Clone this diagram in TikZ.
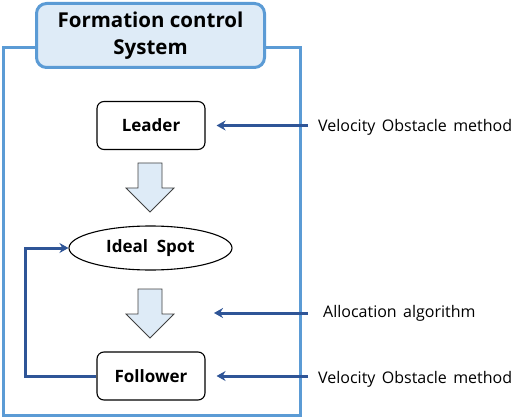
\documentclass[tikz,border=0pt]{standalone}
\usepackage{fontspec}
\setmainfont{Open Sans}
\usepackage{tikz}
\usetikzlibrary{arrows.meta,shapes.geometric,positioning}

\definecolor{frameblue}{HTML}{5B9BD5}
\definecolor{lightblue}{HTML}{DEEBF7}
\definecolor{darkblue}{HTML}{2F5597}

\begin{document}
\begin{tikzpicture}[x=1pt,y=-1pt,
  block/.style={draw,rounded corners=7pt,line width=1.1pt,minimum width=108pt,minimum height=48pt,font=\bfseries\fontsize{17}{20}\selectfont},
  link/.style={draw=darkblue,line width=3pt,-{Stealth[length=9pt,width=10pt]}},
  note/.style={anchor=west,inner sep=0pt,font=\fontsize{16}{19}\selectfont}]

\useasboundingbox (0,0) rectangle (518,419);

% Outer frame
\draw[frameblue,line width=3pt] (3,47.5) rectangle (300,415);

% Title
\node[draw=frameblue,fill=lightblue,line width=3pt,rounded corners=10pt,minimum width=228pt,minimum height=64pt,align=center,
  font=\bfseries\fontsize{20.5}{27}\selectfont] (title) at (150.5,35.5) {Formation control\\System};

% Blocks
\node[block] (leader) at (151,125.5) {Leader};
\node[draw,ellipse,line width=1.1pt,minimum width=163pt,minimum height=44pt,font=\bfseries\fontsize{17}{20}\selectfont] (spot) at (150.5,248) {Ideal\ \ Spot};
\node[block] (follower) at (151,376) {Follower};

% Block arrows
\foreach \y in {163,289} {
  \draw[fill=lightblue,draw=black!75,line width=0.8pt]
    (138,\y) -- (162,\y) -- (162,\y+25) -- (174,\y+25) -- (150,\y+49) -- (126,\y+25) -- (138,\y+25) -- cycle;
}

% Feedback loop
\draw[link] (follower.west) -- (25,376) |- (spot.west);

% Methods
\node[note] (vo1) at (318,127) {Velocity\hspace{0.4em}Obstacle\hspace{0.4em}method};
\node[note] (alloc) at (323,313) {Allocation\hspace{0.4em}algorithm};
\node[note] (vo2) at (318,379) {Velocity\hspace{0.4em}Obstacle\hspace{0.4em}method};
\coordinate (gap) at (214,313);

\draw[link] ([xshift=-10pt]vo1.west |- leader.east) -- ([xshift=11pt]leader.east);
\draw[link] ([xshift=-15pt]alloc.west) -- (gap);
\draw[link] ([xshift=-10pt]vo2.west |- follower.east) -- ([xshift=11pt]follower.east);

\end{tikzpicture}
\end{document}
